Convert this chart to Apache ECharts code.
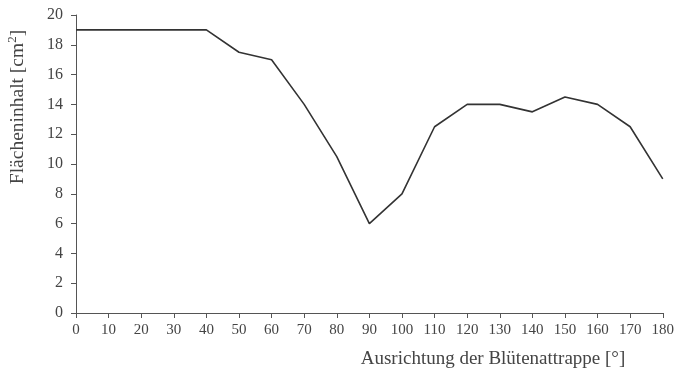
<!DOCTYPE html>
<html>
<head>
<meta charset="utf-8">
<script src="https://cdn.jsdelivr.net/npm/echarts@6/dist/echarts.min.js"></script>
<style>
html,body{margin:0;padding:0;background:#fff;}
#chart{width:677px;height:376px;}
</style>
</head>
<body>
<div id="chart"></div>
<script>
// Orientation of the dummy flower (degrees) and the measured area (cm²)
const angles = [0, 10, 20, 30, 40, 50, 60, 70, 80, 90, 100, 110, 120, 130, 140, 150, 160, 170, 180];
const areas  = [19, 19, 19, 19, 19, 17.5, 17, 14, 10.5, 6, 8, 12.5, 14, 14, 13.5, 14.5, 14, 12.5, 9];

const xTitle = 'Ausrichtung der Blütenattrappe [°]';
const yTitleMain = 'Flächeninhalt [cm';
const yTitleSup = '2';
const yTitleEnd = ']';

const font = '"Liberation Serif", "DejaVu Serif", serif';
const textColor = '#444';
const axisColor = '#555';

const chart = echarts.init(document.getElementById('chart'));
chart.setOption({
  backgroundColor: '#fff',
  animation: false,
  grid: { left: 76, right: 10, top: 15, bottom: 63 },
  xAxis: {
    type: 'value', min: 0, max: 180, interval: 10,
    axisLine: { lineStyle: { color: axisColor, width: 1 } },
    axisTick: { show: true, length: 5, lineStyle: { color: axisColor } },
    axisLabel: { color: textColor, fontFamily: font, fontSize: 15, margin: 10 },
    splitLine: { show: false }
  },
  yAxis: {
    type: 'value', min: 0, max: 20, interval: 2,
    axisLine: { show: true, lineStyle: { color: axisColor, width: 1 } },
    axisTick: { show: true, length: 5, lineStyle: { color: axisColor } },
    axisLabel: { color: textColor, fontFamily: font, fontSize: 16, margin: 13 },
    splitLine: { show: false }
  },
  graphic: [
    {
      type: 'text', x: 493, y: 359, silent: true,
      style: { text: xTitle, font: '19px ' + font, fill: textColor, align: 'center', verticalAlign: 'middle' }
    },
    {
      type: 'text', x: 17, y: 107, rotation: Math.PI / 2, silent: true,
      style: {
        text: '{m|' + yTitleMain + '}{s|' + yTitleSup + '}{m|' + yTitleEnd + '}',
        align: 'center', verticalAlign: 'middle',
        rich: {
          m: { fontFamily: font, fontSize: 19.5, fill: textColor, color: textColor, verticalAlign: 'bottom', lineHeight: 22 },
          s: { fontFamily: font, fontSize: 13, fill: textColor, color: textColor, verticalAlign: 'top', lineHeight: 22 }
        }
      }
    }
  ],
  series: [{
    type: 'line',
    data: angles.map((a, i) => [a, areas[i]]),
    symbol: 'none',
    lineStyle: { color: '#333', width: 1.6 }
  }]
});
</script>
</body>
</html>
